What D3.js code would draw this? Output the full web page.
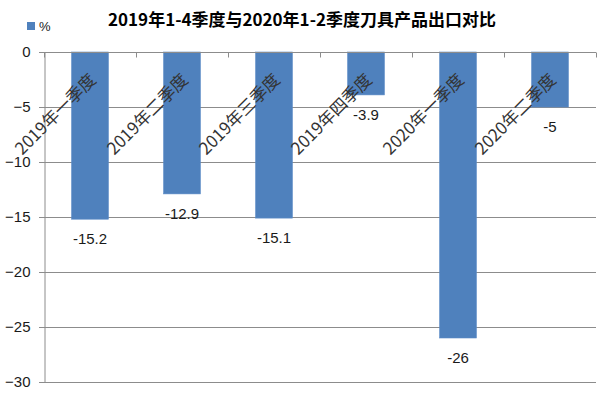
<!DOCTYPE html>
<html>
<head>
<meta charset="utf-8">
<script src="https://cdn.jsdelivr.net/npm/d3@7/dist/d3.min.js"></script>
<style>
  body { margin: 0; background: #fff; }
  svg { display: block; }
  text { font-family: "Noto Sans CJK SC", "Liberation Sans", sans-serif; }
</style>
</head>
<body>
<div id="chart"></div>
<script>
// dados do grafico
var titulo = "2019年1-4季度与2020年1-2季度刀具产品出口对比";
var serieNome = "%";
var categorias = ["2019年一季度", "2019年二季度", "2019年三季度", "2019年四季度", "2020年一季度", "2020年二季度"];
var valores = [-15.2, -12.9, -15.1, -3.9, -26, -5];
var yTicks = [0, -5, -10, -15, -20, -25, -30];

var width = 603;
var height = 398;
var margin = { left: 44, right: 7, top: 52, bottom: 16 };

var svg = d3.select('#chart').append('svg')
    .attr('width', width)
    .attr('height', height);

var x = d3.scaleBand()
    .domain(categorias)
    .range([margin.left, width - margin.right])
    .paddingInner(0.6)
    .paddingOuter(0.3);

var y = d3.scaleLinear()
    .domain([-30, 0])
    .range([height - margin.bottom, margin.top]);

// grelha horizontal
svg.append('g')
    .selectAll('line')
    .data(yTicks)
    .enter()
    .append('line')
    .attr('x1', margin.left - 5)
    .attr('x2', width - margin.right)
    .attr('y1', function (d) { return Math.round(y(d)) + 0.5; })
    .attr('y2', function (d) { return Math.round(y(d)) + 0.5; })
    .attr('stroke', '#8c8c8c')
    .attr('stroke-width', 1);

// eixo y
var yAxis = svg.append('g')
    .attr('transform', 'translate(' + (margin.left + 0.5) + ',0)')
    .call(d3.axisLeft(y).tickValues(yTicks).tickSize(5).tickPadding(9));
yAxis.select('.domain').attr('stroke', '#8c8c8c');
yAxis.selectAll('.tick line').attr('stroke', '#8c8c8c');
yAxis.selectAll('text')
    .attr('font-size', 15)
    .attr('fill', '#1a1a1a')
    .style('font-family', '"Liberation Sans", sans-serif');

// barras
svg.append('g')
    .selectAll('rect')
    .data(valores)
    .enter()
    .append('rect')
    .attr('x', function (d, i) { return x(categorias[i]); })
    .attr('y', y(0))
    .attr('width', x.bandwidth())
    .attr('height', function (d) { return y(d) - y(0); })
    .attr('fill', '#4f81bd')
    .attr('stroke', '#5a8ac6')
    .attr('stroke-width', 0.6);

// eixo x (no zero), ticks para baixo
var xAxis = svg.append('g')
    .attr('transform', 'translate(0,' + (Math.round(y(0)) + 0.5) + ')');
xAxis.append('line')
    .attr('x1', margin.left)
    .attr('x2', width - margin.right)
    .attr('stroke', '#8c8c8c');
var step = x.step();
var inicio = x(categorias[0]) - (step - x.bandwidth()) / 2;
var fronteiras = d3.range(categorias.length + 1).map(function (i) {
    return inicio + i * step;
});
xAxis.selectAll('line.tk')
    .data(fronteiras)
    .enter()
    .append('line')
    .attr('class', 'tk')
    .attr('x1', function (d) { return Math.round(d) + 0.5; })
    .attr('x2', function (d) { return Math.round(d) + 0.5; })
    .attr('y1', 0)
    .attr('y2', 5)
    .attr('stroke', '#8c8c8c');

// rotulos das categorias (rodados)
svg.append('g')
    .selectAll('text')
    .data(categorias)
    .enter()
    .append('text')
    .attr('text-anchor', 'end')
    .attr('font-size', 17)
    .attr('fill', '#333')
    .attr('transform', function (d) {
        var cx = x(d) + x.bandwidth() / 2 + 7;
        return 'translate(' + cx + ',' + (y(0) + 29) + ') rotate(-45)';
    })
    .text(function (d) { return d; });

// rotulos dos valores
svg.append('g')
    .selectAll('text')
    .data(valores)
    .enter()
    .append('text')
    .attr('text-anchor', 'middle')
    .attr('font-size', 15)
    .attr('fill', '#1a1a1a')
    .style('font-family', '"Liberation Sans", sans-serif')
    .attr('x', function (d, i) { return x(categorias[i]) + x.bandwidth() / 2; })
    .attr('y', function (d) { return y(d) + 25; })
    .text(function (d) { return d; });

// titulo
svg.append('text')
    .attr('x', 302)
    .attr('y', 26)
    .attr('text-anchor', 'middle')
    .attr('font-size', 17)
    .attr('font-weight', 'bold')
    .attr('fill', '#000')
    .text(titulo);

// legenda
svg.append('rect')
    .attr('x', 27)
    .attr('y', 22)
    .attr('width', 8)
    .attr('height', 8)
    .attr('fill', '#4f81bd');
svg.append('text')
    .attr('x', 39)
    .attr('y', 31)
    .attr('font-size', 13)
    .attr('fill', '#1a1a1a')
    .style('font-family', '"Liberation Sans", sans-serif')
    .text(serieNome);
</script>
</body>
</html>
